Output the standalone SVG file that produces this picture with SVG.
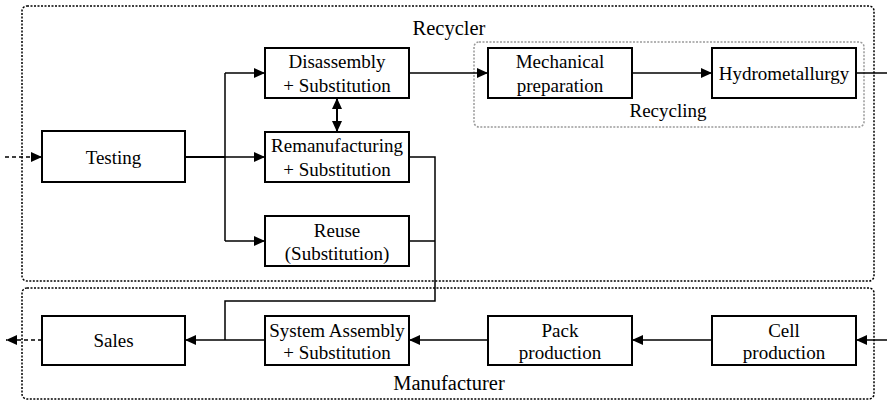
<svg xmlns="http://www.w3.org/2000/svg" width="887" height="401" viewBox="0 0 887 401" font-family="Liberation Serif, Tinos, Times New Roman, Times, Noto Serif, FreeSerif, DejaVu Serif, serif">
<style>
.box{fill:#fff;stroke:#000;stroke-width:2}
.grp{fill:none;stroke:#000;stroke-width:1.5;stroke-dasharray:2,1.5}
.sub{fill:none;stroke:#9a9a9a;stroke-width:1.5;stroke-dasharray:2,1.5}
.t{font-size:19px;fill:#000;text-anchor:middle}
.lbl{font-size:20.5px;fill:#000;text-anchor:middle}
.c{fill:none;stroke:#000;stroke-width:1.5}
.thick{stroke-width:2}
.dash{stroke-dasharray:4,3}
.arr{marker-end:url(#ah)}
</style>
<defs>
<marker id="ah" markerUnits="userSpaceOnUse" markerWidth="11" markerHeight="10" refX="11" refY="5" orient="auto-start-reverse" viewBox="0 0 11 10">
<path d="M0,0 L11,5 L0,10 z" fill="#000"/>
</marker>
</defs>
<g id="recycler">
<rect class="grp" x="22" y="6" width="852" height="275" rx="5"/>
<text class="lbl" x="449" y="35">Recycler</text>
</g>
<g id="manufacturer">
<rect class="grp" x="22" y="288" width="852" height="111" rx="5"/>
<text class="lbl" x="449" y="390">Manufacturer</text>
</g>
<g id="recycling">
<rect class="sub" x="474" y="42" width="390" height="85" rx="5"/>
<text class="t" x="668" y="117">Recycling</text>
</g>
<g id="connectors">
<path class="c dash arr" d="M5,157 H42"/>
<path class="c thick" d="M185,157 H225"/>
<path class="c" d="M225,73 V241"/>
<path class="c arr" d="M225,73 H265"/>
<path class="c arr" d="M225,157 H265"/>
<path class="c arr" d="M225,241 H265"/>
<path class="c thick" d="M337,98 V132" marker-start="url(#ah)" marker-end="url(#ah)"/>
<path class="c arr" d="M409,73 H488"/>
<path class="c arr" d="M632,73 H712"/>
<path class="c" d="M856,73 H887"/>
<path class="c" d="M409,157 H435 V301 H225 V340"/>
<path class="c" d="M409,241 H435"/>
<path class="c arr" d="M265,340 H185"/>
<path class="c arr" d="M488,340 H409"/>
<path class="c arr" d="M712,340 H632"/>
<path class="c arr" d="M887,340 H856"/>
<path class="c dash arr" d="M42,340 H6"/>
</g>
<g id="testing">
<rect class="box" x="42" y="131" width="143" height="51"/>
<text class="t" x="113.5" y="163.5">Testing</text>
</g>
<g id="disassembly">
<rect class="box" x="265" y="48" width="144" height="50"/>
<text class="t" x="337" y="68">Disassembly</text>
<text class="t" x="337" y="92">+ Substitution</text>
</g>
<g id="remanufacturing">
<rect class="box" x="265" y="132" width="144" height="50"/>
<text class="t" x="337" y="152">Remanufacturing</text>
<text class="t" x="337" y="175.5">+ Substitution</text>
</g>
<g id="reuse">
<rect class="box" x="265" y="216" width="144" height="50"/>
<text class="t" x="337" y="236.5">Reuse</text>
<text class="t" x="337" y="260">(Substitution)</text>
</g>
<g id="mechanical">
<rect class="box" x="488" y="48" width="144" height="50"/>
<text class="t" x="560" y="68">Mechanical</text>
<text class="t" x="560" y="92">preparation</text>
</g>
<g id="hydrometallurgy">
<rect class="box" x="712" y="48" width="144" height="50"/>
<text class="t" x="784" y="80">Hydrometallurgy</text>
</g>
<g id="sales">
<rect class="box" x="42" y="316" width="143" height="49"/>
<text class="t" x="113.5" y="347">Sales</text>
</g>
<g id="system">
<rect class="box" x="265" y="316" width="144" height="49"/>
<text class="t" x="337" y="336.5">System Assembly</text>
<text class="t" x="337" y="359">+ Substitution</text>
</g>
<g id="pack">
<rect class="box" x="488" y="316" width="144" height="49"/>
<text class="t" x="560" y="336.5">Pack</text>
<text class="t" x="560" y="359">production</text>
</g>
<g id="cell">
<rect class="box" x="712" y="316" width="144" height="49"/>
<text class="t" x="784" y="336.5">Cell</text>
<text class="t" x="784" y="359">production</text>
</g>
</svg>
